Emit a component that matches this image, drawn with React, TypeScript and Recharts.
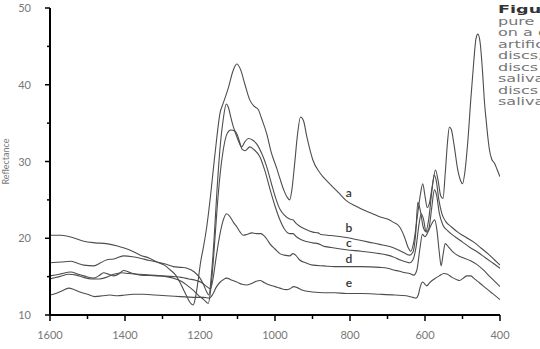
import React from 'react';
import { LineChart, Line, XAxis, YAxis, ReferenceDot } from 'recharts';

// wavenumber / reflectance pairs
const curveA: [number, number][] = [
  [1600, 20.4], [1570, 20.4], [1540, 20.1], [1510, 19.6], [1480, 19.4], [1450, 19.3], [1420, 19.0], [1400, 18.7],
  [1380, 18.3], [1359, 17.8], [1335, 17.4], [1315, 16.9], [1295, 16.5], [1280, 15.9], [1265, 15.2], [1253, 14.2],
  [1243, 13.2], [1235, 12.4], [1226, 11.6], [1218, 11.3], [1212, 12.3], [1205, 14.5], [1198, 17], [1191, 18.8],
  [1182, 21.5], [1172, 25.5], [1164, 29.2], [1155, 33.2], [1147, 36.2], [1138, 37.6], [1125, 39.5], [1112, 41.8],
  [1102, 42.7], [1092, 42], [1080, 40], [1067, 38], [1056, 37.2], [1045, 36.8], [1035, 35.5], [1022, 33.6],
  [1010, 31.2], [996, 29.2], [987, 27.8], [976, 26.2], [967, 25.3], [961, 25.0], [955, 26.3], [948, 29.5],
  [940, 33.5], [932, 35.8], [924, 35.3], [915, 33.2], [905, 31.2], [899, 30.2], [880, 28.5], [854, 27.1],
  [830, 25.9], [810, 24.9], [785, 24.2], [765, 23.7], [740, 23.2], [721, 22.8], [700, 22.5], [685, 22.1],
  [668, 21.5], [655, 20.2], [645, 18.8], [638, 18.3], [630, 19.5], [620, 23], [612, 25.8], [606, 27.1],
  [600, 25.5], [594, 24.0], [588, 24.6], [580, 27], [572, 28.9], [565, 27.5], [558, 25.5], [552, 25.2],
  [546, 28.5], [540, 32.5], [535, 34.5], [530, 34.2], [522, 32], [513, 29], [505, 27.5], [500, 27.1],
  [494, 28.5], [486, 32.5], [478, 38], [470, 43], [464, 46], [459, 46.6], [453, 45.5], [447, 42],
  [441, 37.5], [437, 35.4], [432, 33], [428, 31.5], [422, 30.3], [415, 29.8], [408, 29], [400, 28],
];

const curveB: [number, number][] = [
  [1600, 16.8], [1570, 16.9], [1545, 17.0], [1525, 16.7], [1510, 16.5], [1483, 16.4], [1465, 16.8], [1448, 17.2],
  [1430, 17.3], [1404, 17.7], [1380, 17.6], [1359, 17.4], [1335, 17.1], [1315, 16.9], [1290, 16.6], [1271, 16.3],
  [1250, 16.2], [1235, 16.1], [1215, 15.6], [1200, 14.8], [1190, 13.9], [1182, 13.0], [1176, 12.6], [1170, 15],
  [1163, 19.5], [1155, 26], [1147, 31.5], [1138, 35.5], [1130, 37.5], [1124, 37], [1118, 35.8], [1111, 34.5],
  [1100, 33], [1089, 31.9], [1080, 32.6], [1071, 33.0], [1060, 32.8], [1049, 32.3], [1035, 31], [1022, 29.3],
  [1010, 27.2], [998, 25.2], [987, 23.8], [975, 23.0], [961, 22.5], [952, 22.4], [945, 22.0], [935, 21.6],
  [920, 21.2], [899, 20.8], [885, 20.7], [878, 20.5], [860, 20.4], [840, 20.3], [810, 20.1], [780, 19.8],
  [750, 19.5], [721, 19.2], [700, 19.0], [686, 18.8], [668, 18.4], [652, 18], [641, 17.8], [632, 18.2],
  [625, 20.5], [619, 24.7], [612, 23.5], [605, 21.5], [598, 20.9], [590, 22.5], [582, 26], [575, 28.2],
  [570, 27.5], [563, 25], [555, 23.2], [545, 22.2], [530, 21.5], [510, 20.7], [490, 20.1], [470, 19.5],
  [450, 18.7], [430, 17.9], [415, 17.2], [400, 16.5],
];

const curveC: [number, number][] = [
  [1600, 15.1], [1575, 15.3], [1545, 15.6], [1525, 15.3], [1510, 15.1], [1483, 14.8], [1470, 15.1], [1457, 15.5],
  [1443, 15.3], [1430, 15.1], [1415, 15.4], [1404, 15.8], [1385, 15.5], [1359, 15.2], [1315, 15.1], [1290, 15.0],
  [1271, 14.8], [1250, 14.4], [1235, 13.9], [1220, 13.3], [1205, 12.6], [1190, 12.0], [1178, 11.5], [1171, 13.5],
  [1163, 18], [1155, 23.5], [1146, 28.5], [1138, 31.5], [1128, 33.6], [1118, 34.1], [1108, 34], [1100, 33.4],
  [1094, 32.5], [1088, 31.6], [1080, 31.4], [1067, 31.9], [1055, 31.5], [1040, 30.6], [1027, 28.8], [1014, 26.5],
  [1000, 24.2], [987, 22.4], [975, 21.2], [961, 20.6], [952, 20.6], [943, 20.2], [930, 19.8], [899, 19.4],
  [885, 19.3], [872, 19.0], [850, 18.8], [810, 18.5], [770, 18.3], [721, 18.0], [700, 17.8], [686, 17.6],
  [668, 17.2], [650, 16.9], [641, 16.8], [632, 17.2], [624, 18.8], [616, 21.8], [610, 23.2], [604, 22.5],
  [597, 20.8], [590, 21.2], [582, 24], [575, 26.3], [569, 25.6], [562, 23.3], [552, 21.7], [540, 21],
  [520, 20.2], [500, 19.5], [480, 18.8], [460, 18.2], [440, 17.5], [420, 16.8], [400, 16.1],
];

const curveD: [number, number][] = [
  [1600, 14.7], [1575, 15.0], [1550, 15.3], [1530, 15.2], [1510, 14.9], [1490, 14.7], [1470, 14.7], [1450, 14.9],
  [1430, 15.3], [1410, 15.5], [1390, 15.4], [1360, 15.3], [1330, 15.2], [1300, 15.1], [1271, 15.0], [1250, 14.9],
  [1230, 14.7], [1210, 14.5], [1195, 14.2], [1182, 13.7], [1172, 13.4], [1165, 14.8], [1157, 17.5], [1148, 20.2],
  [1139, 22.2], [1129, 23.2], [1120, 22.8], [1110, 22.0], [1102, 21.5], [1093, 20.8], [1085, 20.4], [1075, 20.5],
  [1062, 20.7], [1049, 20.6], [1038, 20.6], [1031, 20.4], [1022, 19.9], [1014, 19.3], [1000, 18.6], [987, 18.0],
  [975, 17.8], [961, 17.7], [952, 18.0], [945, 17.8], [935, 17.2], [918, 16.8], [899, 16.5], [870, 16.4],
  [840, 16.3], [810, 16.3], [770, 16.3], [721, 16.2], [700, 16.1], [686, 15.9], [668, 15.7], [652, 15.5],
  [641, 15.4], [630, 15.2], [622, 15.8], [614, 18.5], [607, 20.5], [600, 20.2], [592, 20.8], [583, 21.8],
  [574, 22.4], [568, 21], [562, 18.2], [557, 16.4], [552, 17.8], [546, 19.3], [538, 18.9], [525, 18.2],
  [510, 17.7], [495, 17.4], [480, 17.1], [462, 16.6], [445, 15.9], [425, 14.9], [410, 14.2], [400, 13.7],
];

const curveE: [number, number][] = [
  [1600, 12.6], [1585, 12.8], [1570, 13.1], [1550, 13.5], [1535, 13.3], [1520, 13.0], [1500, 12.7], [1480, 12.4],
  [1460, 12.5], [1440, 12.6], [1420, 12.5], [1400, 12.6], [1377, 12.7], [1350, 12.7], [1320, 12.6], [1290, 12.5],
  [1253, 12.4], [1218, 12.3], [1190, 12.3], [1175, 12.2], [1166, 12.7], [1157, 13.6], [1146, 14.3], [1138, 14.6],
  [1129, 14.8], [1118, 14.6], [1102, 14.3], [1088, 14.0], [1076, 13.9], [1063, 14.1], [1050, 14.4], [1040, 14.5],
  [1028, 14.2], [1014, 13.9], [1000, 13.7], [987, 13.5], [970, 13.3], [961, 13.4], [950, 13.7], [942, 13.6],
  [930, 13.3], [899, 13.0], [870, 12.9], [840, 12.9], [810, 12.8], [770, 12.8], [721, 12.7], [680, 12.6],
  [650, 12.5], [632, 12.3], [624, 12.2], [618, 12.6], [612, 13.8], [606, 14.3], [600, 14.0], [595, 13.8],
  [588, 14.2], [575, 14.7], [562, 15.1], [550, 15.4], [540, 15.3], [528, 14.9], [515, 14.6], [508, 14.5],
  [498, 14.8], [488, 15.1], [478, 15.1], [468, 14.7], [455, 14.2], [440, 13.6], [425, 13.0], [412, 12.5],
  [400, 12.0],
];

const seriesNames = ['a', 'b', 'c', 'd', 'e'];
const seriesCurves = [curveA, curveB, curveC, curveD, curveE];
const labelW = 803;
const labelV = [25.9, 21.4, 19.4, 17.3, 14.2];

const xTicks = [1600, 1500, 1400, 1300, 1200, 1100, 1000, 900, 800, 700, 600, 500, 400];
const yTicks = [10, 15, 20, 25, 30, 35, 40, 45, 50];

const captionTitle = 'Figure 3';
const captionLines = [
  'pure hydroxyapatite disc;',
  'on a glass slide; (b) an',
  'artificial caries lesion in',
  'discs; (c) a sound enamel',
  'discs immersed in artificial',
  'saliva; (d) an enamel',
  'discs kept in artificial',
  'saliva for 24 hours.',
];

const FONT = 'Lato, "DejaVu Sans", sans-serif';
const CAPTION_FONT = '"DejaVu Sans", sans-serif';

const XTick = (props: any) => {
  const { x, y, payload } = props;
  const major = payload.value % 200 === 0;
  return (
    <g>
      <line x1={x} x2={x} y1={y} y2={y + (major ? 6 : 4)} stroke="#000" strokeWidth={1.5} />
      {major && (
        <text x={x} y={y + 24} textAnchor="middle" fill="#777" fontSize={11} fontFamily={FONT}>
          {payload.value}
        </text>
      )}
    </g>
  );
};

const YTick = (props: any) => {
  const { x, y, payload } = props;
  const major = payload.value % 10 === 0;
  return (
    <g>
      <line x1={x - (major ? 5 : 3)} x2={x} y1={y} y2={y} stroke="#000" strokeWidth={1.5} />
      {major && (
        <text x={x - 19} y={y + 4} textAnchor="end" fill="#777" fontSize={11} fontFamily={FONT}>
          {payload.value}
        </text>
      )}
    </g>
  );
};

const App: React.FC = () => {
  return (
    <div style={{ position: 'fixed', left: 0, top: 0, width: 540, height: 349, overflow: 'hidden', background: '#fff' }}>
      <LineChart width={540} height={349} margin={{ top: 8, right: 40, bottom: 0, left: 0 }}>
        <XAxis
          type="number"
          dataKey="w"
          domain={[400, 1600]}
          reversed
          ticks={xTicks}
          interval={0}
          height={34}
          tickSize={0}
          tickMargin={0}
          tickLine={false}
          axisLine={{ stroke: '#000', strokeWidth: 2 }}
          tick={<XTick />}
          allowDataOverflow
        />
        <YAxis
          type="number"
          domain={[10, 50]}
          ticks={yTicks}
          interval={0}
          width={50}
          tickSize={0}
          tickMargin={0}
          tickLine={false}
          axisLine={{ stroke: '#000', strokeWidth: 2 }}
          tick={<YTick />}
          allowDataOverflow
          label={{
            value: 'Reflectance',
            angle: -90,
            position: 'insideLeft',
            offset: 6,
            style: { textAnchor: 'middle', fill: '#777', fontSize: 9, fontFamily: FONT },
          }}
        />
        {seriesCurves.map((c, i) => (
          <Line
            key={seriesNames[i]}
            data={c.map(([w, v]) => ({ w, v }))}
            dataKey="v"
            type="monotone"
            stroke="#4d4d4d"
            strokeWidth={1.1}
            dot={false}
            isAnimationActive={false}
          />
        ))}
        {seriesNames.map((n, i) => (
          <ReferenceDot
            key={'lbl' + n}
            x={labelW}
            y={labelV[i]}
            r={0}
            fill="none"
            stroke="none"
            label={{ value: n, position: 'center', fill: '#333', fontSize: 12, fontWeight: 600, fontFamily: FONT }}
          />
        ))}
      </LineChart>
      <div
        style={{
          position: 'absolute',
          left: 498,
          top: 4,
          fontFamily: CAPTION_FONT,
          fontSize: 10,
          lineHeight: '11.5px',
          color: '#777',
          whiteSpace: 'nowrap',
          transform: 'scaleX(1.6)',
          transformOrigin: 'left top',
        }}
      >
        <div style={{ fontWeight: 'bold', color: '#333', fontSize: 11 }}>{captionTitle}</div>
        {captionLines.map((t) => (
          <div key={t}>{t}</div>
        ))}
      </div>
    </div>
  );
};

export default App;
